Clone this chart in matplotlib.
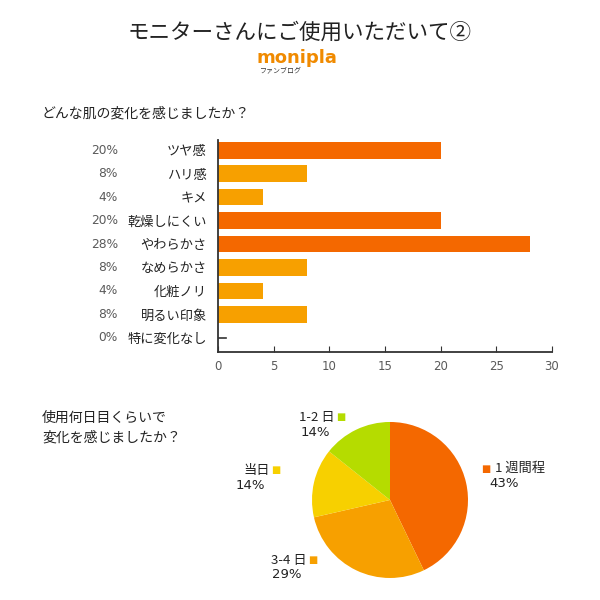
import matplotlib
matplotlib.use("Agg")
import matplotlib.pyplot as plt

plt.rcParams['font.family'] = ['Noto Sans CJK JP', 'DejaVu Sans']

# 棒グラフのデータ
categories = ['ツヤ感', 'ハリ感', 'キメ', '乾燥しにくい', 'やわらかさ',
              'なめらかさ', '化粧ノリ', '明るい印象', '特に変化なし']
values = [20, 8, 4, 20, 28, 8, 4, 8, 0]
pcts = ['20%', '8%', '4%', '20%', '28%', '8%', '4%', '8%', '0%']
x_ticks = [0, 5, 10, 15, 20, 25, 30]

# 円グラフのデータ
pie_labels = ['1 週間程', '3-4 日', '当日', '1-2 日']
pie_values = [3, 2, 1, 1]
pie_pcts = ['43%', '29%', '14%', '14%']

DARK = '#f46800'
LIGHT = '#f7a000'
pie_colors = [DARK, LIGHT, '#f7d000', '#b5dc00']
GREY = '#5a5a5a'

fig = plt.figure(figsize=(6, 6), dpi=100)

fig.text(0.5, 0.945, 'モニターさんにご使用いただいて②', ha='center', va='center',
         fontsize=15.5, color='#222222')
fig.text(0.495, 0.903, 'monipla', ha='center', va='center', fontsize=13,
         fontweight='bold', color='#f08a00', family='DejaVu Sans')
fig.text(0.433, 0.883, 'ファンブログ', ha='left', va='center', fontsize=5, color='#333333')

fig.text(0.07, 0.81, 'どんな肌の変化を感じましたか？', ha='left', va='center',
         fontsize=10, color='#222222')

# 棒グラフ
ax = fig.add_axes([0.3633, 0.4133, 0.5567, 0.3534])
rows = list(range(len(categories)))
colors = [DARK if v >= 20 else LIGHT for v in values]
ax.barh(rows, values, height=0.72, color=colors)
for i, v in enumerate(values):
    if v == 0:
        ax.plot([0, 0.7], [i, i], color='#333333', lw=1.2)
ax.set_ylim(8.6, -0.43)
ax.set_xlim(0, 30)
ax.set_xticks(x_ticks)
ax.set_xticklabels([str(t) for t in x_ticks], family='DejaVu Sans', fontsize=8.5, color=GREY)
ax.tick_params(axis='x', direction='in', length=4, color='#333333', pad=6)
ax.set_yticks(rows)
ax.set_yticklabels(categories, fontsize=9.5, color='#222222')
ax.tick_params(axis='y', length=0, pad=8)
for i, p in enumerate(pcts):
    ax.text(-9.0, i, p, ha='right', va='center', fontsize=8.8, color=GREY,
            family='DejaVu Sans')
for s in ['top', 'right']:
    ax.spines[s].set_visible(False)
for s in ['left', 'bottom']:
    ax.spines[s].set_color('#333333')
    ax.spines[s].set_linewidth(1.3)

# 円グラフ
fig.text(0.07, 0.303, '使用何日目くらいで', ha='left', va='center', fontsize=10, color='#222222')
fig.text(0.07, 0.27, '変化を感じましたか？', ha='left', va='center', fontsize=10, color='#222222')

pax = fig.add_axes([0.52, 0.0367, 0.26, 0.26])
pax.pie(pie_values, colors=pie_colors, startangle=90, counterclock=False,
        radius=1.0, wedgeprops=dict(linewidth=0))
pax.set_xlim(-1, 1)
pax.set_ylim(-1, 1)
pax.set_aspect('equal')

# ラベル位置（円の半径を単位とした座標）
label_pos = [(1.17, 0.40, 'left'), (-0.93, -0.77, 'right'),
             (-1.40, 0.38, 'right'), (-0.57, 1.06, 'right')]
for (lx, ly, ha), lab, pc, col in zip(label_pos, pie_labels, pie_pcts, pie_colors):
    if ha == 'left':
        pax.text(lx, ly, '■', ha='left', va='center', fontsize=7, color=col,
                 family='DejaVu Sans', clip_on=False)
        pax.text(lx + 0.17, ly, lab, ha='left', va='center', fontsize=9.5,
                 color='#222222', clip_on=False)
        pax.text(lx + 0.1, ly - 0.19, pc, ha='left', va='center', fontsize=9.5,
                 color='#222222', family='DejaVu Sans', clip_on=False)
    else:
        pax.text(lx, ly, '■', ha='right', va='center', fontsize=7, color=col,
                 family='DejaVu Sans', clip_on=False)
        pax.text(lx - 0.14, ly, lab, ha='right', va='center', fontsize=9.5,
                 color='#222222', clip_on=False)
        pax.text(lx - 0.2, ly - 0.19, pc, ha='right', va='center', fontsize=9.5,
                 color='#222222', family='DejaVu Sans', clip_on=False)

fig.savefig('out.png', dpi=100, facecolor='white')
